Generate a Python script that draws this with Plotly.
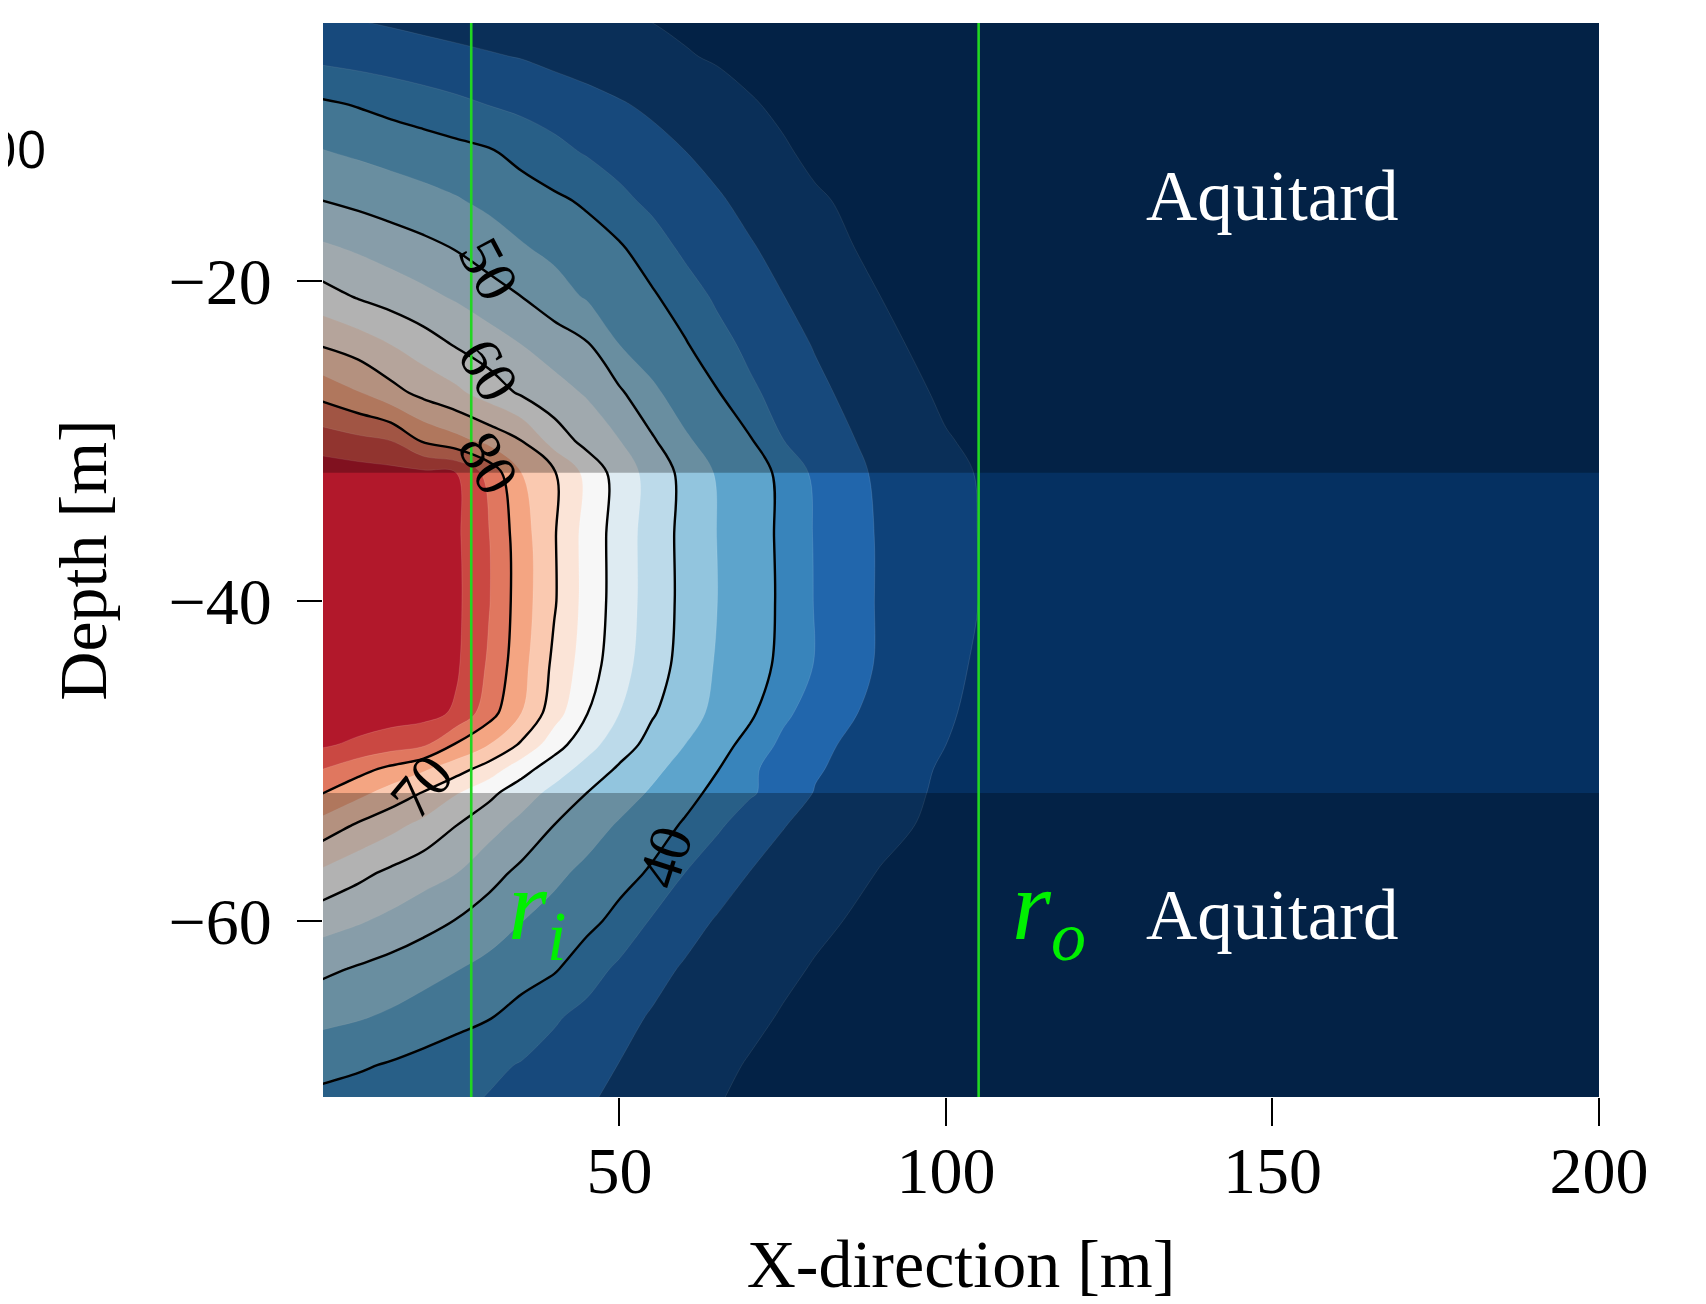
import plotly.graph_objects as go

# ---------------- data ----------------
# grid nodes (x: radial distance [m], y: depth [m])
X_NODES = [4, 10, 15, 20, 25, 30, 35, 40, 45, 50, 55, 60, 65, 70, 75, 80, 90, 100, 110, 130, 160, 200]
Y_NODES = [-3, -6, -9, -12, -15, -18, -21, -24, -27, -30, -32, -36, -40, -44, -47, -49, -50.5,
           -52, -54, -57, -60, -63, -66, -69, -72]

# temperature-like field, one row per depth in Y_NODES (top to bottom)
Z_ROWS = [
    [29.5, 29, 28.5, 28, 27.5, 27, 26.5, 26, 25.5, 25, 24.5, 24, 23.6, 23.2, 22.8, 22.5, 22, 21.5, 21, 20.5, 20, 20],
    [33.8, 33, 32.3, 31.6, 31, 30.4, 29.8, 28.8, 27.9, 27.1, 26.2, 25.3, 24.6, 24, 23.5, 23, 22.3, 21.7, 21.2, 20.6, 20.2, 20],
    [40.9, 39.7, 38.5, 37.3, 36.1, 34.9, 33.8, 32.7, 31.6, 30.4, 29.2, 27.9, 26.6, 25.3, 24.4, 23.7, 22.8, 22, 21.5, 20.8, 20.3, 20],
    [45.4, 44.3, 43.4, 42.6, 41.6, 40.6, 38.6, 36.5, 34.6, 33, 31.6, 30.1, 28.6, 27, 25.4, 24.3, 23.2, 22.3, 21.7, 21, 20.4, 20],
    [50.1, 48.8, 47.6, 46.5, 45.4, 43.9, 42.3, 40.9, 39.3, 36.2, 33.9, 32.2, 30.5, 28.8, 27.1, 25.4, 23.8, 22.7, 22, 21.2, 20.5, 20],
    [56, 54.4, 52.9, 51.4, 49.8, 47.6, 45.5, 43.8, 42.3, 40.7, 37.3, 34.1, 32.6, 30.4, 28.7, 27, 23.7, 22.9, 22.2, 21.4, 20.6, 20],
    [62.2, 59.6, 57.9, 56.2, 54.4, 52.2, 50, 47.2, 44.5, 42.6, 40.7, 37.3, 34.2, 32.2, 30.1, 28.4, 25, 23.8, 22.8, 21.6, 20.7, 20],
    [69.8, 67.6, 65, 62.3, 59.6, 57.3, 55, 52.7, 50.5, 45, 42.6, 40.5, 36.7, 33.8, 31.7, 29.7, 26.3, 22.9, 22.3, 21.5, 20.8, 20],
    [78.5, 75.3, 71.7, 68.6, 66.1, 62.7, 59.3, 56.9, 54.5, 50.8, 45.9, 42.8, 40.3, 35.9, 33.2, 31, 27.4, 24.2, 23.2, 22.2, 21, 20],
    [87.9, 86.3, 85, 79.3, 76.6, 73.6, 70, 62.8, 58.4, 55.1, 50.7, 45.7, 42.9, 40.5, 35.1, 32.6, 28.4, 25.3, 23.2, 22.4, 21.3, 20],
    [92.5, 92, 91.5, 91, 90, 83.3, 75, 70.5, 63.6, 57.8, 53.1, 48.6, 44.5, 42.1, 39, 33.9, 29.1, 26.1, 23.5, 22.6, 21.4, 20],
    [93.3, 93.1, 92.8, 92.3, 90.8, 85.2, 77.2, 70.4, 63.2, 57.8, 52.7, 48.7, 44.9, 42.2, 39.2, 34.6, 29.5, 26.3, 23.6, 22.5, 21, 20],
    [93.5, 93.3, 93, 92.5, 91, 85.3, 77.4, 70.5, 63.2, 57.8, 52.7, 48.8, 45, 42.3, 39.3, 34.7, 29.5, 26.4, 23.6, 22.5, 21, 20],
    [93.5, 93.2, 92.8, 92.2, 90.7, 84.3, 76.7, 68.9, 62.5, 56.9, 52.3, 48.3, 44.5, 42, 39, 34.7, 29.4, 26.4, 22.3, 21.8, 21, 20],
    [93, 92.8, 92.3, 91.8, 89.3, 82.1, 75, 67.3, 60.2, 55, 50.5, 47, 43.8, 40.9, 36.1, 32.8, 28.5, 25.6, 22.2, 21.8, 21, 20],
    [90.8, 89, 87.3, 85.7, 79.4, 75, 69.2, 62.1, 56.8, 52.3, 48.3, 45, 42, 38.2, 33.9, 31.1, 27.8, 25, 22.2, 21.8, 21, 20],
    [85.3, 81.8, 78.8, 75.7, 72.1, 67.8, 61.9, 57.3, 53.3, 49.3, 46.2, 43.2, 40.2, 35.9, 32.8, 30.5, 27.1, 24.5, 22.6, 21.8, 21, 20],
    [80.5, 76.4, 73, 69.7, 65.4, 61.25, 57.3, 53.6, 50, 47.2, 44.4, 41.6, 38.7, 35.5, 33.2, 29.7, 27.4, 24.0, 22.8, 22, 21, 20],
    [73.4, 69.4, 66.6, 63.6, 60.1, 56.9, 53.6, 50, 47.2, 44.5, 42.1, 39.5, 35.7, 32.8, 30.2, 28.7, 26.1, 24, 22.8, 21.8, 21, 20],
    [64.3, 61.3, 59, 57, 55.1, 51.8, 48.8, 46.1, 43.8, 41.7, 39.4, 35, 32.3, 29.9, 28.5, 27.3, 24.8, 23.5, 22.5, 21.6, 20.8, 20],
    [57.2, 55.5, 53.8, 51.8, 49.8, 47.5, 45.1, 43.2, 41.3, 38.6, 34.5, 31.8, 29.6, 28.3, 26.9, 25.8, 23.9, 22.8, 22, 21.3, 20.6, 20],
    [51.2, 49.5, 48.1, 46.6, 45.2, 43.6, 42.1, 40.5, 37.3, 34, 31.5, 29.5, 28.3, 27, 25.8, 24.7, 23.3, 22.4, 21.7, 21, 20.5, 20],
    [46.3, 45.4, 44.3, 43, 41.6, 40.3, 38.1, 35.6, 33.5, 31.4, 29.6, 28.4, 27.1, 25.9, 24.7, 23.9, 22.8, 22, 21.5, 20.8, 20.4, 20],
    [41.7, 40.6, 39.6, 38.4, 37.2, 36, 34.7, 33.1, 31.5, 29.9, 28.6, 27.2, 25.9, 24.7, 23.9, 23.2, 22.3, 21.7, 21.2, 20.6, 20.3, 20],
    [37.6, 37, 36.5, 35.9, 35.5, 34.2, 32.8, 31.5, 30.1, 28.9, 27.8, 26.4, 25, 24.3, 23.6, 23, 22.1, 21.5, 21.1, 20.5, 20.2, 20],
]

FILL_LEVELS = (25, 90, 5)        # start, end, step of filled bands
LINE_LEVELS = (40, 80, 10)       # start, end, step of black isolines
LINE_LABELS = ["50", "60", "80", "70", "40"]
AQUIFER_TOP = -32
AQUIFER_BOTTOM = -52
RADII = [27.3, 105.0]
RADII_NAMES = ["i", "o"]
X_TICKS = [50, 100, 150, 200]
Y_TICKS = [-60, -40, -20]
X_RANGE = [4.6, 200]
Y_RANGE = [-71.0, -3.9]
LAYER_TEXT = ["Aquitard", "Aquitard"]

# ---------------- styling ----------------
SERIF = "Liberation Serif"
BAND_COLORS = ["#053061", "#0e427a", "#2166ac", "#3884bb", "#5da4cc", "#92c5de", "#bcdaea",
               "#deebf2", "#f7f7f7", "#fbe4d7", "#fac9b0", "#f4a582", "#e0775f", "#ca4842", "#b2182b"]
n = len(BAND_COLORS) - 1
colorscale = []
for k, c in enumerate(BAND_COLORS):
    lo = max(0.0, (k - 0.5) / n)
    hi = min(1.0, (k + 0.5) / n)
    colorscale.append([lo, c])
    colorscale.append([hi, c])

y_asc = Y_NODES[::-1]
z_asc = Z_ROWS[::-1]

fig = go.Figure()
fig.add_trace(go.Contour(
    x=X_NODES, y=y_asc, z=z_asc,
    contours=dict(start=FILL_LEVELS[0], end=FILL_LEVELS[1], size=FILL_LEVELS[2],
                  coloring="fill", showlines=True),
    line=dict(width=0.8, color="rgba(255,255,255,0.15)", smoothing=1),
    colorscale=colorscale, showscale=False, hoverinfo="skip",
))
fig.add_trace(go.Contour(
    x=X_NODES, y=y_asc, z=z_asc,
    contours=dict(start=LINE_LEVELS[0], end=LINE_LEVELS[1], size=LINE_LEVELS[2],
                  coloring="none", showlines=True),
    line=dict(width=2.4, color="black", smoothing=1),
    showscale=False, hoverinfo="skip",
))

shapes = []
# darkened aquitards
for y0, y1 in [(AQUIFER_TOP, Y_RANGE[1]), (Y_RANGE[0], AQUIFER_BOTTOM)]:
    shapes.append(dict(type="rect", xref="x", yref="y", x0=X_RANGE[0], x1=X_RANGE[1], y0=y0, y1=y1,
                       fillcolor="rgba(0,0,0,0.28)", line=dict(width=0), layer="above"))
for r in RADII:
    shapes.append(dict(type="line", xref="x", yref="paper", x0=r, x1=r, y0=0, y1=1,
                       line=dict(color="#22d622", width=2.6), layer="above"))

# the page body adds an 8 px offset; the figure is sized so the plot area lands where it should
W, H = 1698, 1296
L, R, T, B = 315, 107, 15, 207
pw, ph = W - L - R, H - T - B

annotations = []
label_pos = [(29.9, -19.3, 62), (29.9, -25.6, 60), (29.9, -31.4, 60), (19.8, -51.6, -50), (57.0, -56.0, -72)]
for txt, (lx, ly, ang) in zip(LINE_LABELS, label_pos):
    annotations.append(dict(x=lx, y=ly, xref="x", yref="y", text=txt, showarrow=False, textangle=ang,
                            font=dict(family=SERIF, size=60, color="black")))
for txt, ly in zip(LAYER_TEXT, [-14.7, -59.6]):
    annotations.append(dict(x=150, y=ly, xref="x", yref="y", text=txt, showarrow=False,
                            font=dict(family=SERIF, size=71, color="white")))
for r, name, lx in zip(RADII, RADII_NAMES, [37.3, 115.8]):
    annotations.append(dict(x=lx, y=-59.5, xref="x", yref="y",
                            text=f"<i>r</i><sub><i>{name}</i></sub>", showarrow=False,
                            font=dict(family=SERIF, size=100, color="#00f000")))
annotations.append(dict(x=(40 - L) / pw, y=1 - (139 - T) / ph, xref="paper", yref="paper",
                        text="00", showarrow=False, xanchor="right", yanchor="middle",
                        font=dict(family="Open Sans", size=52, color="black")))

fig.update_layout(
    width=W, height=H,
    margin=dict(l=L, r=R, t=T, b=B, autoexpand=False),
    paper_bgcolor="white", plot_bgcolor="white",
    shapes=shapes, annotations=annotations,
    showlegend=False,
    xaxis=dict(range=X_RANGE, tickvals=X_TICKS, ticks="outside", ticklen=28, tickwidth=1.5,
               tickcolor="black", showgrid=False, zeroline=False, showline=False, automargin=False,
               tickfont=dict(family=SERIF, size=66, color="black"), ticklabelstandoff=-12,
               title=dict(text="X-direction [m]", font=dict(family=SERIF, size=68, color="black"),
                          standoff=33)),
    yaxis=dict(range=Y_RANGE, tickvals=Y_TICKS, ticks="outside", ticklen=25, tickwidth=1.5,
               tickcolor="black", showgrid=False, zeroline=False, showline=False, automargin=False,
               tickfont=dict(family=SERIF, size=66, color="black"), ticklabelstandoff=12,
               title=dict(text="Depth [m]", font=dict(family=SERIF, size=68, color="black"),
                          standoff=39)),
)

fig.write_html("out.html")
